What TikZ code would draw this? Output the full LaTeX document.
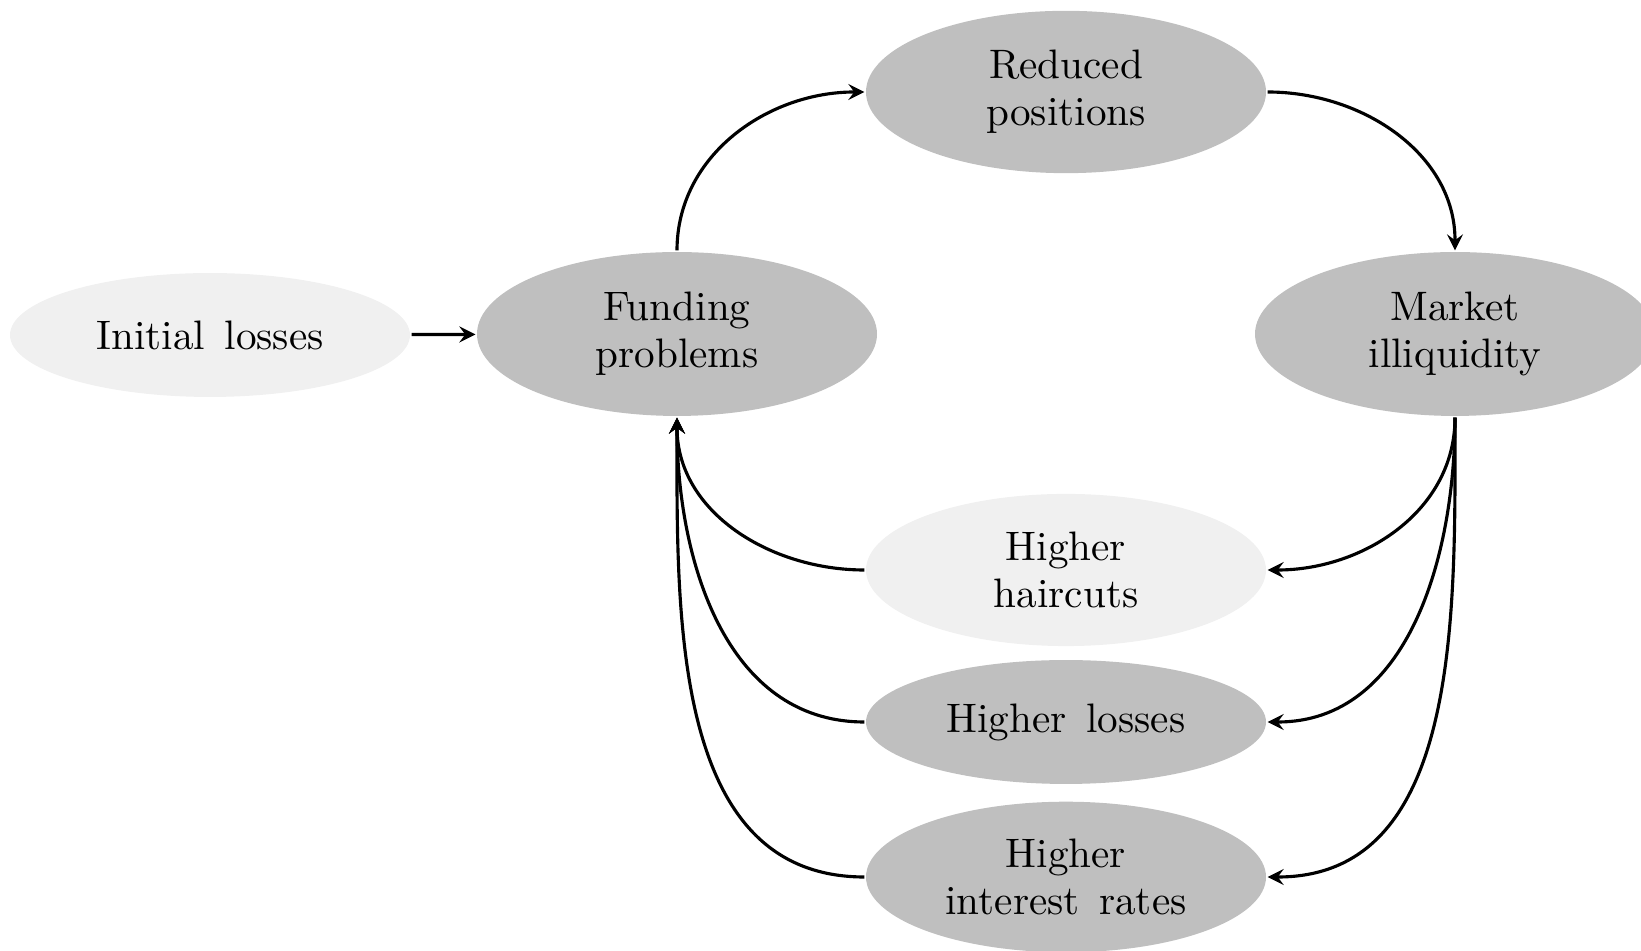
\documentclass[tikz,border=0pt]{standalone}
\usetikzlibrary{shapes,shapes.geometric,arrows}
\newcommand{\nodefont}{\fontsize{10.5}{12}\selectfont\spaceskip=5pt plus 1pt\relax}

\begin{document}
\begin{tikzpicture}
	[x=0.255pt,y=0.255pt,thick,>=stealth,
	every node/.style={shape=ellipse,inner sep=0pt,align=center,
		minimum width=102pt,font=\nodefont},
	dark/.style={fill=black!25},
	light/.style={fill=black!6}]
	\useasboundingbox (0,-951) rectangle (1641,0);
	\node[light,minimum height=31.6pt] (init) at (210,-335) {Initial losses};
	\node[dark,minimum height=41.8pt] (fund) at (677,-334) {Funding\\problems};
	\node[dark,minimum height=41.4pt] (reduce) at (1066,-92) {Reduced\\positions};
	\node[dark,minimum height=41.8pt] (market) at (1455,-334) {Market\\illiquidity};
	\node[light,minimum height=38.8pt] (haircut) at (1066,-570) {Higher\\haircuts};
	\node[dark,minimum height=31.6pt] (loss) at (1066,-722) {Higher losses};
	\node[dark,minimum height=38.4pt] (rate) at (1066,-877) {Higher\\interest rates};
	
	\draw[->] (init) -- (fund);
	\path[->]
	\foreach \startNode/\endNode/\outAng/\inAng in {fund/reduce/90/180,
		reduce/market/0/90,market/haircut/-90/0,market/loss/-90/0,
		market/rate/-90/0,haircut/fund/180/-90,loss/fund/180/-90,
		rate/fund/180/-90}
	{
		(\startNode) edge[out=\outAng,in=\inAng] (\endNode)
	};
\end{tikzpicture}
\end{document}
